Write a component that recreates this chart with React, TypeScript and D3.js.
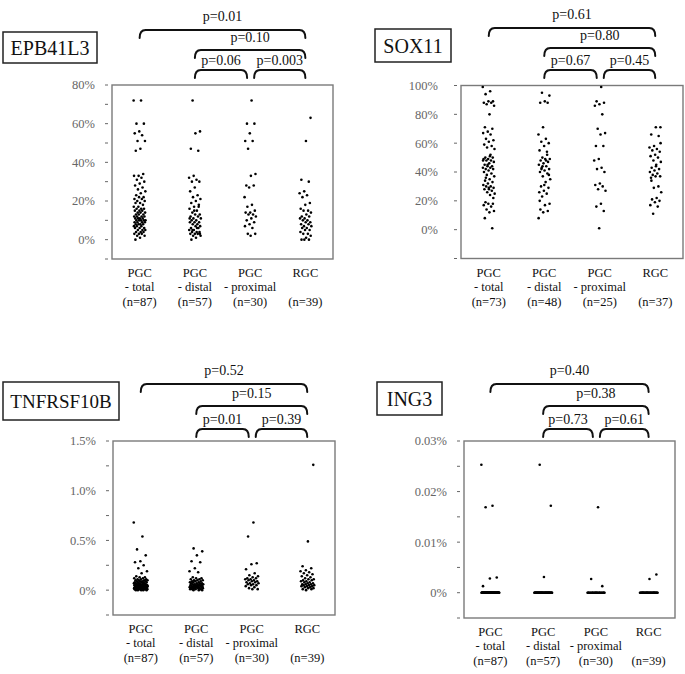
import React from "react";
import * as d3 from "d3";

// ---------- categories ----------
const catLine1 = ["PGC", "PGC", "PGC", "RGC"];
const catLine2 = ["- total", "- distal", "- proximal", ""];
const nPanel1 = ["(n=87)", "(n=57)", "(n=30)", "(n=39)"];
const nPanel2 = ["(n=73)", "(n=48)", "(n=25)", "(n=37)"];
const nPanel3 = ["(n=87)", "(n=57)", "(n=30)", "(n=39)"];
const nPanel4 = ["(n=87)", "(n=57)", "(n=30)", "(n=39)"];

// ---------- p values (total-RGC, distal-RGC, distal-proximal, proximal-RGC) ----------
const pEPB = ["p=0.01", "p=0.10", "p=0.06", "p=0.003"];
const pSOX = ["p=0.61", "p=0.80", "p=0.67", "p=0.45"];
const pTNF = ["p=0.52", "p=0.15", "p=0.01", "p=0.39"];
const pING = ["p=0.40", "p=0.38", "p=0.73", "p=0.61"];

// ---------- ticks ----------
const epbTicks = [-10, 0, 10, 20, 30, 40, 50, 60, 70, 80];
const epbTickLabels = ["", "0%", "", "20%", "", "40%", "", "60%", "", "80%"];
const soxTicks = [-20, 0, 20, 40, 60, 80, 100];
const soxTickLabels = ["", "0%", "20%", "40%", "60%", "80%", "100%"];
const tnfTicks = [-0.25, 0, 0.25, 0.5, 0.75, 1.0, 1.25, 1.5];
const tnfTickLabels = ["", "0%", "", "0.5%", "", "1.0%", "", "1.5%"];
const ingTicks = [-0.005, 0, 0.005, 0.01, 0.015, 0.02, 0.025, 0.03];
const ingTickLabels = ["", "0%", "", "0.01%", "", "0.02%", "", "0.03%"];

// ---------- EPB41L3 (%) ----------
const epbTotal = [72, 72, 60, 60, 56, 55, 54, 51, 51, 47, 46,
  34, 33, 33, 32, 31, 30, 29, 28, 27, 26, 25, 24, 23, 22, 22, 21, 21, 20, 20, 19,
  19, 18, 17, 17, 16, 16, 16, 15, 15, 15, 14, 14, 14, 13, 13, 13, 12, 12, 12, 12,
  11, 11, 11, 11, 10, 10, 10, 10, 10, 9, 9, 9, 9, 8, 8, 8, 8, 7, 7, 7,
  6, 6, 6, 5, 5, 5, 4, 4, 4, 3, 3, 3, 2, 2, 1, 0];
const epbDistal = [72, 56, 55, 47, 46,
  33, 32, 31, 30, 30, 27, 25, 23, 22, 21, 20, 19, 17, 17, 16, 15, 14, 13, 13, 12,
  12, 11, 11, 10, 10, 9, 9, 9, 8, 8, 7, 7, 6, 6, 5, 5, 4, 4, 4, 3,
  3, 3, 2, 2, 1, 0, 18, 15, 11, 6, 5, 3];
const epbProximal = [72, 60, 60, 55, 51, 51, 47, 34, 33, 28, 28, 27, 22, 18, 17,
  15, 14, 14, 13, 13, 12, 11, 10, 9, 8, 7, 6, 3, 3, 2];
const epbRGC = [63, 51, 31, 30, 25, 24, 23, 22, 19, 18, 16, 15, 15, 14, 13, 12, 12,
  11, 11, 10, 10, 9, 9, 8, 8, 7, 7, 6, 6, 5, 5, 4, 3, 3, 2, 1, 0, 0, 0];

// ---------- SOX11 (%) ----------
const soxTotal = [99, 96, 94, 89, 89, 88, 88, 87, 86, 80, 71, 70, 68, 67, 66, 63, 62,
  61, 59, 58, 57, 56, 51, 50, 50, 49, 49, 48, 48, 47, 46, 45, 44, 44, 43, 43, 42, 42,
  41, 40, 39, 38, 37, 35, 34, 33, 32, 31, 30, 30, 29, 28, 28, 27, 26, 25, 24, 19, 18,
  18, 17, 16, 14, 13, 12, 8, 1, 45, 48, 52, 36, 22, 29];
const soxDistal = [95, 93, 89, 88, 88, 71, 66, 63, 61, 60, 58, 55, 54, 50, 49, 49, 48,
  47, 46, 45, 44, 43, 42, 41, 40, 39, 37, 35, 33, 30, 29, 27, 26, 25, 23, 18, 17, 14,
  13, 12, 8, 48, 42, 38, 31, 20, 52, 44];
const soxProximal = [99, 89, 88, 87, 86, 80, 70, 67, 66, 58, 58, 49, 48, 43, 42, 40,
  32, 31, 30, 28, 27, 18, 16, 13, 1];
const soxRGC = [71, 71, 66, 65, 58, 57, 56, 55, 54, 52, 51, 50, 48, 47, 45, 43, 42, 41,
  40, 39, 38, 37, 37, 36, 30, 29, 26, 22, 21, 20, 19, 17, 16, 11, 60, 44, 34];

// ---------- TNFRSF10B (%) ----------
const tnfTotal = [0.68, 0.54, 0.41, 0.35, 0.29, 0.28, 0.25, 0.22, 0.19, 0.17,
  0.14, 0.13, 0.13, 0.12, 0.12, 0.11, 0.11, 0.11, 0.10, 0.10,
  0.10, 0.10, 0.09, 0.09, 0.09, 0.09, 0.08, 0.08, 0.08, 0.08,
  0.08, 0.07, 0.07, 0.07, 0.07, 0.07, 0.06, 0.06, 0.06, 0.06,
  0.06, 0.06, 0.05, 0.05, 0.05, 0.05, 0.05, 0.05, 0.05, 0.04,
  0.04, 0.04, 0.04, 0.04, 0.04, 0.04, 0.03, 0.03, 0.03, 0.03,
  0.03, 0.03, 0.03, 0.03, 0.02, 0.02, 0.02, 0.02, 0.02, 0.02,
  0.02, 0.02, 0.02, 0.01, 0.01, 0.01, 0.01, 0.01, 0.01, 0.01,
  0.01, 0.01, 0.00, 0.00, 0.00, 0.00, 0.00];
const tnfDistal = [0.42, 0.39, 0.35, 0.29, 0.28, 0.22, 0.19, 0.18,
  0.13, 0.12, 0.12, 0.11, 0.11, 0.10, 0.10, 0.10, 0.09, 0.09,
  0.09, 0.08, 0.08, 0.08, 0.07, 0.07, 0.07, 0.07, 0.06, 0.06,
  0.06, 0.06, 0.05, 0.05, 0.05, 0.05, 0.05, 0.04, 0.04, 0.04,
  0.04, 0.04, 0.03, 0.03, 0.03, 0.03, 0.03, 0.02, 0.02, 0.02,
  0.02, 0.02, 0.01, 0.01, 0.01, 0.01, 0.00, 0.00, 0.00];
const tnfProximal = [0.68, 0.54, 0.27, 0.26, 0.21, 0.17, 0.15, 0.14, 0.13, 0.12, 0.12,
  0.11, 0.11, 0.10, 0.10, 0.09, 0.09, 0.08, 0.08, 0.07, 0.07, 0.06, 0.06, 0.05, 0.05,
  0.04, 0.03, 0.02, 0.01, 0.01];
const tnfRGC = [1.26, 0.49, 0.24, 0.22, 0.20, 0.19, 0.18, 0.17, 0.16, 0.15,
  0.14, 0.13, 0.12, 0.11, 0.11, 0.10, 0.10, 0.09, 0.09, 0.08,
  0.08, 0.07, 0.07, 0.06, 0.06, 0.06, 0.05, 0.05, 0.05, 0.04,
  0.04, 0.04, 0.03, 0.03, 0.02, 0.02, 0.01, 0.01, 0.00];

// ---------- ING3 (%) ----------
const ingTotal = [0.0253, 0.0172, 0.0169, 0.0030, 0.0028, 0.0013,
  0, 0, 0, 0, 0, 0, 0, 0, 0, 0, 0, 0, 0, 0, 0, 0, 0, 0, 0, 0, 0, 0, 0, 0, 0, 0, 0,
  0, 0, 0, 0, 0, 0, 0, 0, 0, 0, 0, 0, 0, 0, 0, 0, 0, 0, 0, 0, 0, 0, 0, 0, 0, 0, 0,
  0, 0, 0, 0, 0, 0, 0, 0, 0, 0, 0, 0, 0, 0, 0, 0, 0, 0, 0, 0, 0, 0, 0, 0, 0, 0, 0];
const ingDistal = [0.0253, 0.0172, 0.0031,
  0, 0, 0, 0, 0, 0, 0, 0, 0, 0, 0, 0, 0, 0, 0, 0, 0, 0, 0, 0, 0, 0, 0, 0, 0, 0, 0,
  0, 0, 0, 0, 0, 0, 0, 0, 0, 0, 0, 0, 0, 0, 0, 0, 0, 0, 0, 0, 0, 0, 0, 0, 0, 0];
const ingProximal = [0.0169, 0.0027, 0.0013,
  0, 0, 0, 0, 0, 0, 0, 0, 0, 0, 0, 0, 0, 0, 0, 0, 0, 0, 0, 0, 0, 0, 0, 0, 0, 0, 0];
const ingRGC = [0.0036, 0.0027,
  0, 0, 0, 0, 0, 0, 0, 0, 0, 0, 0, 0, 0, 0, 0, 0, 0, 0, 0, 0, 0, 0, 0, 0, 0, 0, 0,
  0, 0, 0, 0, 0, 0, 0, 0, 0, 0];

const SERIF = "'Liberation Serif', 'Times New Roman', serif";
const GRAY = "#666666";

type PanelCfg = {
  title: string;
  titleBox: [number, number, number, number];
  titleSize: number;
  x: [number, number];
  y: [number, number];
  domain: [number, number];
  ticks: number[];
  tickLabels: string[];
  labelGap: number;
  groups: number[][];
  nLabels: string[];
  pLabels: string[];
  bracketY: [number, number, number];
  jitter: number;
};

const panels: PanelCfg[] = [
  {
    title: "EPB41L3", titleBox: [3, 32, 94, 31], titleSize: 20,
    x: [112, 333], y: [85, 259], domain: [-10, 80],
    ticks: epbTicks, tickLabels: epbTickLabels, labelGap: 17,
    groups: [epbTotal, epbDistal, epbProximal, epbRGC], nLabels: nPanel1,
    pLabels: pEPB, bracketY: [30, 50, 70], jitter: 6,
  },
  {
    title: "SOX11", titleBox: [375, 29, 76, 33], titleSize: 20,
    x: [461, 683], y: [85.5, 258.5], domain: [-20, 100],
    ticks: soxTicks, tickLabels: soxTickLabels, labelGap: 23,
    groups: [soxTotal, soxDistal, soxProximal, soxRGC], nLabels: nPanel2,
    pLabels: pSOX, bracketY: [28, 48, 70], jitter: 6,
  },
  {
    title: "TNFRSF10B", titleBox: [3, 382, 116, 38], titleSize: 19,
    x: [113, 335], y: [441, 615], domain: [-0.25, 1.5],
    ticks: tnfTicks, tickLabels: tnfTickLabels, labelGap: 17,
    groups: [tnfTotal, tnfDistal, tnfProximal, tnfRGC], nLabels: nPanel3,
    pLabels: pTNF, bracketY: [384, 406, 429], jitter: 7,
  },
  {
    title: "ING3", titleBox: [377, 382, 65, 33], titleSize: 20,
    x: [464, 675], y: [441, 618], domain: [-0.005, 0.03],
    ticks: ingTicks, tickLabels: ingTickLabels, labelGap: 17,
    groups: [ingTotal, ingDistal, ingProximal, ingRGC], nLabels: nPanel4,
    pLabels: pING, bracketY: [384, 406, 429], jitter: 9,
  },
];

function bracketPath(x1: number, x2: number, y: number) {
  const d = 8, r = 6;
  return `M${x1},${y + d} Q${x1},${y} ${x1 + r},${y} L${x2 - r},${y} Q${x2},${y} ${x2},${y + d}`;
}

function Panel({ cfg }: { cfg: PanelCfg }) {
  const xs = d3.scaleBand<number>().domain([0, 1, 2, 3]).range(cfg.x);
  const ys = d3.scaleLinear().domain(cfg.domain).range([cfg.y[1], cfg.y[0]]);
  const cx = (i: number) => (xs(i) as number) + xs.bandwidth() / 2;
  const [bx, by, bw, bh] = cfg.titleBox;
  const brackets = [
    { x1: cx(0), x2: cx(3), y: cfg.bracketY[0], off: 9 },
    { x1: cx(1), x2: cx(3), y: cfg.bracketY[1], off: 8 },
    { x1: cx(1), x2: cx(2) - 3, y: cfg.bracketY[2], off: 5 },
    { x1: cx(2) + 4, x2: cx(3), y: cfg.bracketY[2], off: 5 },
  ];
  return (
    <g>
      <rect x={bx} y={by} width={bw} height={bh} fill="white" stroke="#222" strokeWidth={1.5} />
      <text x={bx + bw / 2} y={by + bh / 2} dy="0.35em" textAnchor="middle" fontSize={cfg.titleSize} fontFamily={SERIF} fill="#111">{cfg.title}</text>
      {brackets.map((b, i) => (
        <g key={i}>
          <path d={bracketPath(b.x1, b.x2, b.y)} fill="none" stroke="#111" strokeWidth={2} strokeLinecap="round" />
          <text x={(b.x1 + b.x2) / 2} y={b.y - b.off} textAnchor="middle" fontSize={14} fontFamily={SERIF} fill="#111">{cfg.pLabels[i]}</text>
        </g>
      ))}
      <rect x={cfg.x[0]} y={cfg.y[0]} width={cfg.x[1] - cfg.x[0]} height={cfg.y[1] - cfg.y[0]} fill="none" stroke="#7a7a7a" strokeWidth={1.4} />
      {cfg.ticks.map((t, i) => (
        <g key={i}>
          <line x1={cfg.x[0] - 7} x2={cfg.x[0] - 4} y1={ys(t)} y2={ys(t)} stroke={GRAY} strokeWidth={1} />
          {cfg.tickLabels[i] && (
            <text x={cfg.x[0] - cfg.labelGap} y={ys(t)} dy="0.35em" textAnchor="end" fontSize={12.5} fontFamily={SERIF} fill={GRAY}>{cfg.tickLabels[i]}</text>
          )}
        </g>
      ))}
      {cfg.groups.map((vals, gi) => (
        <g key={gi}>
          {vals.map((v, i) => {
            const off = (((i * 0.6180339887 + gi * 0.31) % 1) - 0.5) * 2 * cfg.jitter;
            return <circle key={i} cx={cx(gi) + off} cy={ys(v)} r={1.3} fill="#000" />;
          })}
        </g>
      ))}
      {[0, 1, 2, 3].map((i) => (
        <g key={i} fontFamily={SERIF} fontSize={12.5} fill="#111" textAnchor="middle">
          <text x={cx(i)} y={cfg.y[1] + 14} dy="0.35em">{catLine1[i]}</text>
          <text x={cx(i)} y={cfg.y[1] + 28} dy="0.35em">{catLine2[i]}</text>
          <text x={cx(i)} y={cfg.y[1] + 43} dy="0.35em">{cfg.nLabels[i]}</text>
        </g>
      ))}
    </g>
  );
}

export default function App() {
  return (
    <svg width={685} height={674} style={{ position: "absolute", left: 0, top: 0, background: "white" }}>
      <rect width={685} height={674} fill="white" />
      {panels.map((p, i) => <Panel key={i} cfg={p} />)}
    </svg>
  );
}
